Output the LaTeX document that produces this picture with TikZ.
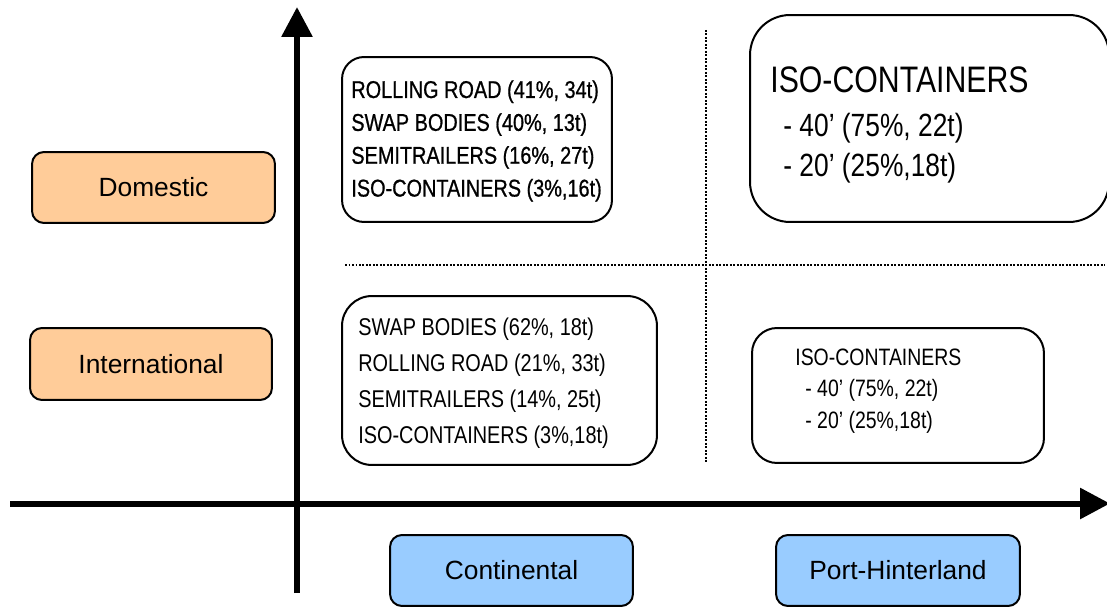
\documentclass[tikz,border=0pt]{standalone}
\usepackage{fontspec}
\setmainfont{Liberation Sans}
\newfontfamily\narrowfont{Liberation Sans}[FakeStretch=0.82]
\newfontfamily\heavynarrow{Liberation Sans}[FakeStretch=0.82, FakeBold=0.8]
\usetikzlibrary{arrows.meta}

\definecolor{domfill}{RGB}{255,204,153}
\definecolor{corfill}{RGB}{153,204,255}

\tikzset{
  catbox/.style={draw, line width=0.04cm, rounded corners=0.24cm,
    font=\fontsize{15}{18}\selectfont},
  region/.style={draw, line width=0.04cm},
  shares/.style={anchor=west, inner sep=0pt, align=left},
  axis/.style={line width=0.12cm, -{Triangle[length=0.6cm, width=0.6cm]}},
  split/.style={line width=0.03cm, dash pattern=on 0.035cm off 0.035cm}
}

\begin{document}
\begin{tikzpicture}[x=0.02cm, y=-0.02cm]
  \useasboundingbox (0,0) rectangle (1107,608);
  % quadrant separators
  \coordinate (hl) at (345,265);
  \coordinate (hr) at (1105,265);
  \coordinate (vt) at (706,30);
  \coordinate (vb) at (706,462);
  \draw[split] (hl) -- (hr);
  \draw[split] (vt) -- (vb);
  % axes
  \coordinate (ybot) at (297,593);
  \coordinate (ytop) at (297,7);
  \coordinate (xleft) at (10,503.5);
  \coordinate (xright) at (1110,503.5);
  \draw[axis] (ybot) -- (ytop);
  \draw[axis] (xleft) -- (xright);
  % categories
  \node[catbox, fill=domfill, minimum width=4.86cm, minimum height=1.42cm]
    (dom) at (153.5,187.5) {Domestic};
  \node[catbox, fill=domfill, minimum width=4.84cm, minimum height=1.44cm]
    (intl) at (151,364) {International};
  \node[catbox, fill=corfill, minimum width=4.86cm, minimum height=1.42cm]
    (cont) at (511.5,570.5) {Continental};
  \node[catbox, fill=corfill, minimum width=4.88cm, minimum height=1.42cm]
    (port) at (898,570.5) {Port-Hinterland};
  % quadrants
  \node[region, rounded corners=0.44cm, minimum width=5.4cm, minimum height=3.3cm]
    (domcont) at (477,139.5) {};
  \node[region, rounded corners=0.8cm, minimum width=7.18cm, minimum height=4.14cm]
    (domport) at (929.5,118.5) {};
  \node[region, rounded corners=0.6cm, minimum width=6.3cm, minimum height=3.38cm]
    (intlcont) at (499.5,380.5) {};
  \node[region, rounded corners=0.5cm, minimum width=5.84cm, minimum height=2.7cm]
    (intlport) at (898,395.5) {};
  % shares
  \node[shares, font=\heavynarrow\fontsize{13.8}{18.7}\selectfont] (domconttxt) at (351,141)
    {ROLLING ROAD (41\%, 34t)\\SWAP BODIES (40\%, 13t)\\SEMITRAILERS (16\%, 27t)\\ISO-CONTAINERS (3\%,16t)};
  \node[shares, font=\narrowfont\fontsize{18.3}{22.7}\selectfont] (domporttxt) at (770,125)
    {{\fontsize{21}{24}\selectfont ISO-CONTAINERS}\\[2.6pt]\hspace{0.26cm}- 40’ (75\%, 22t)\\\hspace{0.26cm}- 20’ (25\%,18t)};
  \node[shares, font=\narrowfont\fontsize{13.8}{20.4}\selectfont] (intlconttxt) at (358,383)
    {SWAP BODIES (62\%, 18t)\\ROLLING ROAD (21\%, 33t)\\SEMITRAILERS (14\%, 25t)\\ISO-CONTAINERS (3\%,18t)};
  \node[shares, font=\narrowfont\fontsize{13.5}{17.9}\selectfont] (intlporttxt) at (795,391)
    {ISO-CONTAINERS\\\hspace{0.2cm}- 40’ (75\%, 22t)\\\hspace{0.2cm}- 20’ (25\%,18t)};
\end{tikzpicture}
\end{document}
